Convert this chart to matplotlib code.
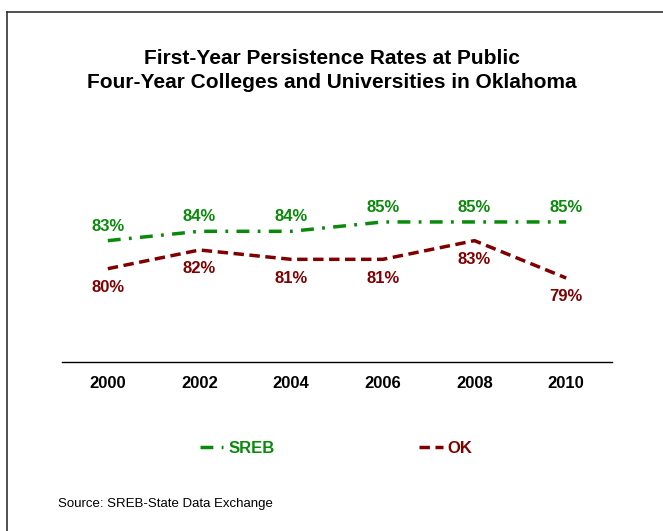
import matplotlib.pyplot as plt
from matplotlib.lines import Line2D

plt.rcParams['font.family'] = ['Liberation Sans', 'DejaVu Sans']

years = ['2000', '2002', '2004', '2006', '2008', '2010']
sreb = [83, 84, 84, 85, 85, 85]
ok = [80, 82, 81, 81, 83, 79]

green = '#0a8a0a'
red = '#800000'

fig = plt.figure(figsize=(6.63, 5.31), dpi=100)
ax = fig.add_axes([0.0935, 0.318, 0.8296, 0.352])

x = list(range(len(years)))
ax.plot(x, sreb, color=green, lw=2.5, dashes=(3.7, 2.4, 0.8, 2.4), label='SREB')
ax.plot(x, ok, color=red, lw=2.5, dashes=(3.0, 1.6), label='OK')

for i, v in enumerate(sreb):
    ax.annotate(f'{v}%', (i, v), xytext=(0, 10.5), textcoords='offset points',
                ha='center', va='center', fontsize=12, fontweight='bold', color=green)
for i, v in enumerate(ok):
    ax.annotate(f'{v}%', (i, v), xytext=(0, -13.5), textcoords='offset points',
                ha='center', va='center', fontsize=12, fontweight='bold', color=red)

ax.set_xlim(-0.5, 5.5)
ax.set_ylim(70, 90)
ax.set_xticks(x)
ax.set_xticklabels(years, fontsize=12, fontweight='bold')
ax.tick_params(axis='x', length=0, pad=10)
ax.set_yticks([])
for s in ['top', 'right', 'left']:
    ax.spines[s].set_visible(False)
ax.spines['bottom'].set_linewidth(1.0)

fig.text(0.5, 0.867, 'First-Year Persistence Rates at Public\nFour-Year Colleges and Universities in Oklahoma',
         ha='center', va='center', fontsize=15, fontweight='bold', linespacing=1.3)

leg = fig.legend(loc='center', bbox_to_anchor=(0.507, 0.155), ncol=2, frameon=False,
                 prop={'weight': 'bold', 'size': 12}, handlelength=1.4,
                 handletextpad=0.3, columnspacing=8.7)
for t, c in zip(leg.get_texts(), [green, red]):
    t.set_color(c)

fig.text(0.0875, 0.051, 'Source: SREB-State Data Exchange', fontsize=9.5, va='center')

# frame round the slide
fig.add_artist(Line2D([0.0106, 0.0106], [0, 0.977], transform=fig.transFigure, color='#333333', lw=1.2))
fig.add_artist(Line2D([0.0106, 1.0], [0.977, 0.977], transform=fig.transFigure, color='#333333', lw=1.2))

fig.savefig('out.png', dpi=100)
